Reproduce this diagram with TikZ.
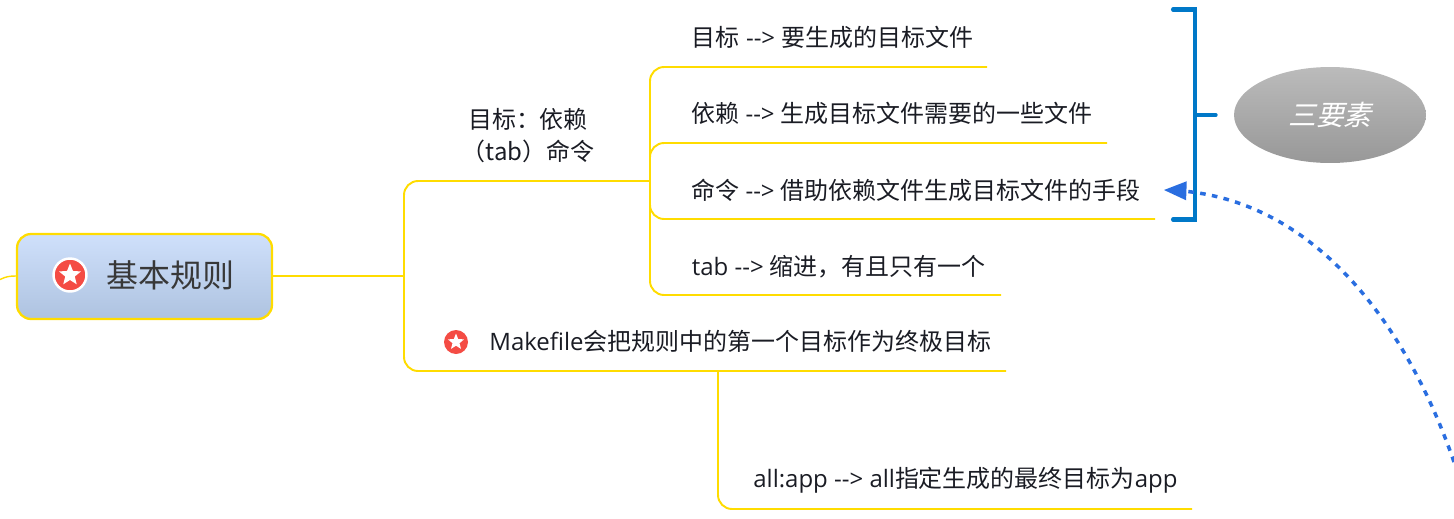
\documentclass[tikz,border=0pt]{standalone}
\usepackage{fontspec}
\setmainfont{Open Sans}
\newfontfamily\cjk{Noto Sans CJK SC}
\newfontfamily\cjkslant[FakeSlant=0.25]{Noto Sans CJK SC}
\newcommand{\zh}[1]{{\cjk #1}}
\usetikzlibrary{arrows,shapes.geometric}
\definecolor{branchyellow}{HTML}{FFDC00}
\definecolor{bracketblue}{HTML}{0078C8}
\definecolor{relblue}{HTML}{2A6EE0}
\definecolor{iconred}{HTML}{F44C44}
\definecolor{inktext}{HTML}{1A1C24}
\definecolor{topictop}{HTML}{CFE0FB}
\definecolor{topicbottom}{HTML}{AEC3E0}
\definecolor{greytop}{HTML}{BBBBBB}
\definecolor{greybottom}{HTML}{989898}
\tikzset{
  branch/.style={draw=branchyellow,line width=1.1pt,rounded corners=8pt},
  leaf/.style={anchor=west,inner sep=0pt,text=inktext,font=\fontsize{13.65pt}{17pt}\selectfont},
  iconback/.style={circle,fill=iconred,inner sep=0pt},
  iconstar/.style={star,star points=5,star point ratio=2.3,fill=white,inner sep=0pt},
  bracket/.style={draw=bracketblue,line width=2.3pt,line cap=round},
}
\begin{document}
\begin{tikzpicture}[x=0.02cm,y=-0.02cm]
\useasboundingbox (0,0) rectangle (1454,518);

% centre topic
\node [draw=branchyellow,line width=1.3pt,rounded corners=8pt,top color=topictop,bottom color=topicbottom,minimum width=5.1cm,minimum height=1.7cm,inner sep=0pt] (basic) at (144.5,276.5) {};
\node [draw=white,line width=1.4pt,iconback,minimum size=0.66cm] (basicicon) at (70,275) {};
\node [iconstar,minimum size=0.46cm] (basicstar) at (70,275) {};
\node [anchor=west,inner sep=0pt,text=black!78,font=\fontsize{18.2pt}{22pt}\selectfont] (basictext) at (106.5,275) {\zh{基本规则}};

% branch ends
\coordinate (stub) at (0,279.5);
\coordinate (trunk) at (404,276);
\coordinate (rulefork) at (650,181);
\coordinate (targetend) at (987,67);
\coordinate (dependend) at (1107,143);
\coordinate (commandend) at (1155,219);
\coordinate (tabend) at (1001,295);
\coordinate (firstend) at (1006,371);
\coordinate (allfork) at (718,371);
\coordinate (allend) at (1192,509);

% labels
\node [align=center,inner sep=0pt,text=inktext,font=\fontsize{13.65pt}{18.2pt}\selectfont] (rule) at (528,136) {\zh{目标^^^^ff1a依赖}\\\zh{^^^^ff08tab^^^^ff09命令}};
\node [leaf] (target) at (691.5,37) {\zh{目标} -{}-> \zh{要生成的目标文件}};
\node [leaf] (depend) at (691,113) {\zh{依赖} -{}-> \zh{生成目标文件需要的一些文件}};
\node [leaf] (command) at (691,190) {\zh{命令} -{}-> \zh{借助依赖文件生成目标文件的手段}};
\node [leaf] (tab) at (691.5,266.5) {tab -{}-> \zh{缩进^^^^ff0c有且只有一个}};
\node [iconback,minimum size=0.48cm] (firsticon) at (456,342) {};
\node [iconstar,minimum size=0.34cm] (firststar) at (456,342) {};
\node [leaf] (first) at (489,341) {Makefile\zh{会把规则中的第一个目标作为终极目标}};
\node [leaf] (all) at (753,480) {all:app -{}-> all\zh{指定生成的最终目标为}app};

% connectors
\draw [draw=branchyellow,line width=0.8pt] (stub) .. controls (6,276.5) and (10,276) .. (basic.west |- trunk);
\draw [branch] (basic.east |- trunk) -- (trunk);
\draw [branch] (trunk) |- (rulefork);
\draw [branch] (trunk) |- (firstend);
\draw [branch] (rulefork) |- (targetend);
\draw [branch] (rulefork) |- (dependend);
\draw [branch] (rulefork) |- (commandend);
\draw [branch] (rulefork) |- (tabend);
\draw [branch] (allfork) |- (allend);

% summary bracket
\coordinate (brtop) at (1173,9.5);
\coordinate (brbottom) at (1173,219.5);
\coordinate (brmid) at (1195,115);
\coordinate (brtip) at (1216,115);
\draw [bracket] (brtop) -| (brmid) |- (brbottom);
\draw [bracket,line width=1.9pt] (brmid) -- (brtip);
\node [ellipse,top color=greytop,bottom color=greybottom,minimum width=3.84cm,minimum height=1.92cm,inner sep=0pt,text=white,font=\fontsize{15.8pt}{18pt}\selectfont] (three) at (1330,115) {\cjkslant 三要素};

% relation
\coordinate (relstart) at (1454,462);
\coordinate (relend) at (1164,190);
\draw [->,>=triangle 45,draw=relblue,line width=2pt,dash pattern=on 3.2pt off 3.6pt] (relstart) .. controls (1405,320) and (1310,195) .. (relend);
\end{tikzpicture}
\end{document}
